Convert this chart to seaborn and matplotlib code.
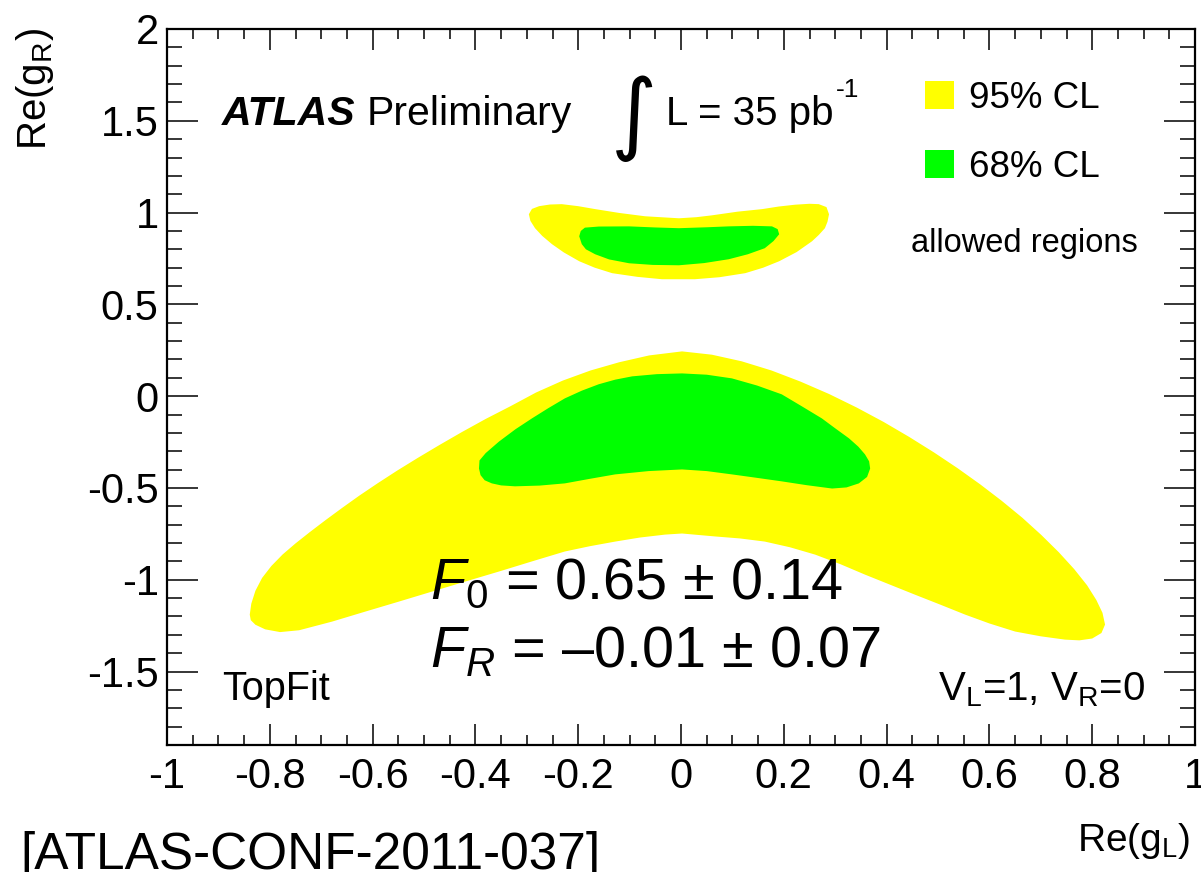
import numpy as np
import matplotlib
matplotlib.use("Agg")
import matplotlib.pyplot as plt
from matplotlib.ticker import MultipleLocator
from matplotlib.patches import Patch
import seaborn as sns

# ---------------- data ----------------
# 95% CL, lower (large) allowed region: boundary in (Re(gL), Re(gR))
band95_low_x = [-0.839, -0.836, -0.828, -0.815, -0.797, -0.775, -0.750, -0.722, -0.692, -0.660,
                -0.626, -0.590, -0.552, -0.512, -0.470, -0.426, -0.380, -0.332, -0.282, -0.230,
                -0.176, -0.120, -0.062, 0.002, 0.060, 0.118, 0.176, 0.232, 0.288, 0.342,
                0.394, 0.444, 0.492, 0.538, 0.582, 0.624, 0.664, 0.701, 0.735, 0.765,
                0.790, 0.808, 0.820, 0.825, 0.818, 0.800, 0.775, 0.747, 0.700, 0.650,
                0.600, 0.553, 0.504, 0.455, 0.406, 0.358, 0.310, 0.261, 0.212, 0.163,
                0.115, 0.066, 0.002, -0.031, -0.080, -0.128, -0.177, -0.226, -0.290, -0.354,
                -0.420, -0.484, -0.549, -0.615, -0.679, -0.743, -0.780, -0.809, -0.828, -0.837]
band95_low_y = [-1.190, -1.130, -1.060, -0.990, -0.925, -0.862, -0.802, -0.740, -0.676, -0.610,
                -0.542, -0.474, -0.405, -0.336, -0.266, -0.195, -0.124, -0.055, 0.020, 0.085,
                0.140, 0.185, 0.222, 0.244, 0.226, 0.190, 0.140, 0.080, 0.012, -0.062,
                -0.140, -0.222, -0.306, -0.392, -0.480, -0.570, -0.662, -0.756, -0.850, -0.942,
                -1.030, -1.110, -1.180, -1.244, -1.290, -1.320, -1.330, -1.326, -1.308, -1.282,
                -1.238, -1.190, -1.135, -1.081, -1.026, -0.972, -0.915, -0.863, -0.823, -0.792,
                -0.775, -0.764, -0.748, -0.754, -0.770, -0.792, -0.817, -0.846, -0.900, -0.955,
                -1.010, -1.064, -1.119, -1.174, -1.228, -1.275, -1.285, -1.270, -1.245, -1.220]

# 68% CL, lower allowed region
band68_low_x = [-0.393, -0.392, -0.380, -0.354, -0.322, -0.290, -0.258, -0.226, -0.193, -0.160,
                -0.128, -0.095, -0.047, 0.002, 0.050, 0.099, 0.148, 0.196, 0.235, 0.274,
                0.300, 0.327, 0.345, 0.358, 0.366, 0.368, 0.362, 0.346, 0.322, 0.294,
                0.245, 0.196, 0.148, 0.099, 0.050, 0.002, -0.063, -0.128, -0.177, -0.226,
                -0.275, -0.323, -0.350, -0.368, -0.382, -0.390]
band68_low_y = [-0.394, -0.350, -0.310, -0.247, -0.180, -0.121, -0.065, -0.012, 0.030, 0.065,
                0.090, 0.108, 0.120, 0.124, 0.117, 0.097, 0.058, 0.010, -0.055, -0.121,
                -0.175, -0.230, -0.275, -0.317, -0.355, -0.394, -0.440, -0.475, -0.497, -0.503,
                -0.485, -0.464, -0.445, -0.426, -0.408, -0.399, -0.408, -0.426, -0.450, -0.475,
                -0.487, -0.491, -0.486, -0.475, -0.458, -0.430]

# 95% CL, upper (small) allowed region
band95_up_x = [-0.296, -0.290, -0.276, -0.255, -0.232, -0.200, -0.167, -0.120, -0.070, -0.004,
               0.030, 0.060, 0.110, 0.158, 0.190, 0.222, 0.250, 0.268, 0.283, 0.288,
               0.285, 0.280, 0.268, 0.255, 0.225, 0.191, 0.160, 0.125, 0.075, 0.027,
               -0.037, -0.085, -0.134, -0.168, -0.198, -0.228, -0.251, -0.270, -0.284, -0.293]
band95_up_y = [0.991, 1.020, 1.035, 1.044, 1.046, 1.035, 1.019, 0.998, 0.980, 0.969,
               0.975, 0.985, 1.005, 1.019, 1.033, 1.043, 1.048, 1.046, 1.030, 0.991,
               0.950, 0.915, 0.878, 0.844, 0.785, 0.735, 0.700, 0.670, 0.648, 0.637,
               0.637, 0.650, 0.670, 0.700, 0.735, 0.783, 0.828, 0.873, 0.915, 0.955]

# 68% CL, upper allowed region
band68_up_x = [-0.198, -0.195, -0.187, -0.160, -0.101, -0.050, -0.004, 0.050, 0.093, 0.140,
               0.177, 0.188, 0.191, 0.180, 0.163, 0.130, 0.093, 0.045, -0.004, -0.055,
               -0.101, -0.140, -0.167, -0.185, -0.193]
band68_up_y = [0.871, 0.900, 0.918, 0.924, 0.925, 0.919, 0.915, 0.920, 0.925, 0.928,
               0.925, 0.910, 0.882, 0.845, 0.806, 0.773, 0.746, 0.725, 0.713, 0.715,
               0.724, 0.745, 0.773, 0.800, 0.828]

legend_labels = ["95% CL", "68% CL"]
xtick_values = [-1, -0.8, -0.6, -0.4, -0.2, 0, 0.2, 0.4, 0.6, 0.8, 1]
xtick_labels = ["-1", "-0.8", "-0.6", "-0.4", "-0.2", "0", "0.2", "0.4", "0.6", "0.8", "1"]
ytick_values = [-1.5, -1, -0.5, 0, 0.5, 1, 1.5, 2]
ytick_labels = ["-1.5", "-1", "-0.5", "0", "0.5", "1", "1.5", "2"]

# ---------------- style ----------------
sns.set_theme(style="ticks")
plt.rcParams["font.family"] = ["Liberation Sans", "DejaVu Sans"]
plt.rcParams["mathtext.fontset"] = "custom"
plt.rcParams["mathtext.rm"] = "Liberation Sans"
plt.rcParams["mathtext.it"] = "Liberation Sans:italic"
plt.rcParams["mathtext.bf"] = "Liberation Sans:bold"
plt.rcParams["axes.unicode_minus"] = False
plt.rcParams["text.color"] = "black"
plt.rcParams["axes.labelcolor"] = "black"
plt.rcParams["xtick.color"] = "black"
plt.rcParams["ytick.color"] = "black"

YELLOW = "#ffff00"
GREEN = "#00ff00"

W, H = 1201, 872
fig = plt.figure(figsize=(W / 100, H / 100), dpi=100)
fig.patch.set_facecolor("white")


def fx(px):
    return px / W


def fy(py):
    return 1 - py / H


ax = fig.add_axes([fx(167), fy(745), fx(1195) - fx(167), fy(29) - fy(745)])
ax.set_facecolor("white")

ax.fill(band95_low_x, band95_low_y, color=YELLOW, lw=0, zorder=1)
ax.fill(band68_low_x, band68_low_y, color=GREEN, lw=0, zorder=2)
ax.fill(band95_up_x, band95_up_y, color=YELLOW, lw=0, zorder=1)
ax.fill(band68_up_x, band68_up_y, color=GREEN, lw=0, zorder=2)

ax.set_xlim(-1, 1)
ax.set_ylim(-1.9, 2)
ax.set_xticks(xtick_values)
ax.set_xticklabels(xtick_labels)
ax.set_yticks(ytick_values)
ax.set_yticklabels(ytick_labels)
ax.xaxis.set_minor_locator(MultipleLocator(0.05))
ax.yaxis.set_minor_locator(MultipleLocator(0.1))

for s in ax.spines.values():
    s.set_visible(True)
    s.set_linewidth(1.6)
    s.set_color("black")

ax.tick_params(axis="both", which="both", direction="in", top=True, right=True,
               colors="black", width=1.1, labelsize=30)
ax.tick_params(axis="x", which="major", length=15, pad=9)
ax.tick_params(axis="x", which="minor", length=7.5)
ax.tick_params(axis="y", which="major", length=22, pad=6)
ax.tick_params(axis="y", which="minor", length=11)
ax.grid(False)

# legend
handles = [Patch(facecolor=YELLOW, edgecolor="none"), Patch(facecolor=GREEN, edgecolor="none")]
leg = ax.legend(handles, legend_labels, loc="upper left",
                bbox_to_anchor=(fx(925), fy(81)), bbox_transform=fig.transFigure,
                frameon=False, fontsize=26.5, handlelength=0.8, handleheight=0.78,
                handletextpad=0.4, labelspacing=0.92, borderpad=0, borderaxespad=0)

# texts
fig.text(fx(911), fy(252), "allowed regions", fontsize=23.5, ha="left", va="baseline")
fig.text(fx(222), fy(125), "ATLAS", fontsize=29.5, fontweight="bold", fontstyle="italic",
         ha="left", va="baseline")
fig.text(fx(367), fy(125), "Preliminary", fontsize=29.5, ha="left", va="baseline")
fig.text(fx(634), fy(119), "\u222b", fontsize=64, family="DejaVu Sans", ha="center", va="center")
lum = fig.text(fx(666), fy(125), "L = 35 pb", fontsize=29, ha="left", va="baseline")
fig.canvas.draw()
bb = lum.get_window_extent(renderer=fig.canvas.get_renderer())
fig.text(bb.x1 / W + 2 / W, fy(97), "-1", fontsize=19, ha="left", va="baseline")

fig.text(fx(222), fy(700), "TopFit", fontsize=28.5, ha="left", va="baseline")
fig.text(fx(1145), fy(700), "V$_{\\mathrm{L}}$=1, V$_{\\mathrm{R}}$=0", fontsize=29,
         ha="right", va="baseline")
fig.text(fx(430), fy(599), "$\\mathit{F_0}$ = 0.65 \u00b1 0.14", fontsize=41.5,
         ha="left", va="baseline")
fig.text(fx(430), fy(667), "$\\mathit{F_R}$ = \u20130.01 \u00b1 0.07", fontsize=41.5,
         ha="left", va="baseline")
fig.text(fx(35), fy(28), "Re(g$_{\\mathrm{R}}$)", fontsize=29, rotation=90,
         ha="center", va="top")
fig.text(fx(1190), fy(851), "Re(g$_{\\mathrm{L}}$)", fontsize=28, ha="right", va="baseline")
fig.text(fx(20), fy(869), "[ATLAS-CONF-2011-037]", fontsize=37, ha="left", va="baseline")

fig.savefig("out.png", dpi=100, facecolor="white")
